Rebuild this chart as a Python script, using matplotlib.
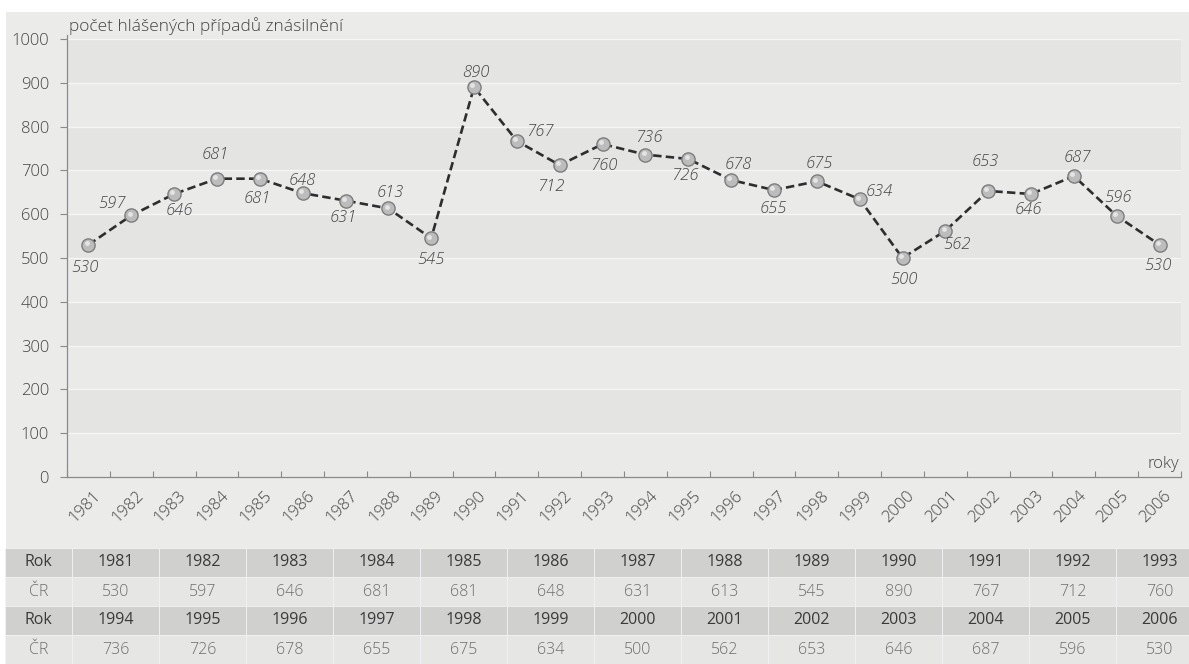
import matplotlib
matplotlib.use("Agg")
import matplotlib.pyplot as plt
import matplotlib.transforms as mtransforms
from matplotlib.patches import Rectangle
import numpy as np

plt.rcParams['font.family'] = ['Open Sans', 'DejaVu Sans']
plt.rcParams['font.weight'] = 'light'

# ---- data ----
years = [1981, 1982, 1983, 1984, 1985, 1986, 1987, 1988, 1989, 1990, 1991, 1992, 1993,
         1994, 1995, 1996, 1997, 1998, 1999, 2000, 2001, 2002, 2003, 2004, 2005, 2006]
cases = [530, 597, 646, 681, 681, 648, 631, 613, 545, 890, 767, 712, 760,
         736, 726, 678, 655, 675, 634, 500, 562, 653, 646, 687, 596, 530]
y_ticks = [0, 100, 200, 300, 400, 500, 600, 700, 800, 900, 1000]
title_text = "počet hlášených případů znásilnění"
x_axis_text = "roky"
row_label_year = "Rok"
row_label_value = "ČR"

# label offsets (px) for each point label (style only)
label_off = [(-3, -23), (-19, 11), (5, -17), (-2, 24), (-2, -20), (0, 12), (-2, -17),
             (2, 15), (0, -22), (2, 14), (23, 9), (-9, -22), (1, -22), (3, 17),
             (-4, -17), (7, 15), (-1, -19), (3, 17), (20, 7), (1, -22), (12, -14),
             (-3, 29), (-3, -16), (3, 18), (1, 18), (-2, -21)]

TXT = '#444444'
W, H = 1189, 664
fig = plt.figure(figsize=(W / 100, H / 100), dpi=100)
fig.patch.set_facecolor('#ebebea')
# white scan margins
fig.patches.append(Rectangle((0, (H - 12) / H), 1, 12 / H, transform=fig.transFigure,
                             facecolor='white', edgecolor='none', zorder=-5))
fig.patches.append(Rectangle((0, 0), 6 / W, 1, transform=fig.transFigure,
                             facecolor='white', edgecolor='none', zorder=-5))

ax = fig.add_axes([67 / W, (H - 477) / H, (1181 - 67) / W, (477 - 35) / H])
ax.set_facecolor('#eaeae9')
x = np.arange(len(years))
ax.set_xlim(-0.5, len(years) - 0.5)
ax.set_ylim(0, 1009)

# alternating bands and faint white grid lines
for i in range(len(y_ticks) - 1):
    if i % 2 == 1:
        ax.axhspan(y_ticks[i], y_ticks[i + 1], color='#e4e4e3', zorder=0, lw=0)
for t in y_ticks[1:]:
    ax.axhline(t, color='#f6f6f6', lw=0.9, zorder=0.5)

ax.plot(x, cases, linestyle=(0, (3.2, 1.6)), color='#2e2e2e', lw=1.9, zorder=2)
ax.plot(x, cases, linestyle='none', marker='o', markersize=9.5,
        markerfacecolor='#bcbcbc', markeredgecolor='#7d7d7d', markeredgewidth=1.0, zorder=3)
ax.plot(x - 0.04, np.array(cases) + 4, linestyle='none', marker='o', markersize=3.5,
        markerfacecolor='#e4e4e4', markeredgecolor='none', zorder=4)

for xi, v, (dx, dy) in zip(x, cases, label_off):
    ax.annotate(str(v), (xi, v), xytext=(dx * 0.72, dy * 0.72), textcoords='offset points',
                ha='center', va='center', fontsize=12, style='italic', color=TXT,
                zorder=5)

for s in ['top', 'right']:
    ax.spines[s].set_visible(False)
for s in ['left', 'bottom']:
    ax.spines[s].set_color('#8a8a8a')
    ax.spines[s].set_linewidth(0.9)

ax.set_yticks(y_ticks)
ax.set_yticklabels([str(t) for t in y_ticks])
ax.tick_params(axis='y', length=5, width=0.8, color='#8a8a8a', pad=8,
               labelsize=12, labelcolor=TXT)

ax.set_xticks(x)
ax.set_xticklabels([str(yv) for yv in years], rotation=45, ha='right',
                   rotation_mode='anchor')
ax.tick_params(axis='x', which='major', length=0, pad=8, labelsize=12,
               labelcolor=TXT)
ax.set_xticks(np.arange(len(years) + 1) - 0.5, minor=True)
ax.tick_params(axis='x', which='minor', length=4, direction='in', width=0.8,
               color='#8a8a8a')
shift = mtransforms.ScaledTranslation(4 / 100, 0, fig.dpi_scale_trans)
for lab in ax.get_xticklabels():
    lab.set_transform(lab.get_transform() + shift)

ax.text(0.002, 1.0, title_text, transform=ax.transAxes, ha='left', va='bottom',
        fontsize=12.5, color=TXT)
ax.text(0.998, 0.012, x_axis_text, transform=ax.transAxes, ha='right', va='bottom',
        fontsize=12, color=TXT)

# ---- table ----
tab = fig.add_axes([5 / W, 0, 1198 / W, 116 / H])
tab.set_xlim(0, 1198)
tab.set_ylim(4, 0)
tab.axis('off')
label_w = 67
col_w = 87
n_per = 13
halves = [(years[:n_per], cases[:n_per]), (years[n_per:], cases[n_per:])]
row = 0
for yrs, vals in halves:
    for kind, items, bg, fg, lab in [('y', yrs, '#d0d0cf', '#3a3a3a', row_label_year),
                                      ('v', vals, '#e6e6e5', '#6e6e6e', row_label_value)]:
        tab.add_patch(Rectangle((0, row), label_w, 1, facecolor=bg, edgecolor='#f2f2f2', lw=0.6))
        tab.text(label_w / 2, row + 0.5, lab, ha='center', va='center', fontsize=11.5, color=fg,
                 weight='normal' if kind == 'y' else 'light')
        for j, it in enumerate(items):
            x0 = label_w + j * col_w
            tab.add_patch(Rectangle((x0, row), col_w, 1, facecolor=bg, edgecolor='#f2f2f2', lw=0.6))
            tab.text(x0 + col_w / 2, row + 0.5, str(it), ha='center', va='center',
                     fontsize=11.5, color=fg, weight='normal' if kind == 'y' else 'light')
        row += 1

fig.savefig('out.png', dpi=100, facecolor=fig.get_facecolor())
